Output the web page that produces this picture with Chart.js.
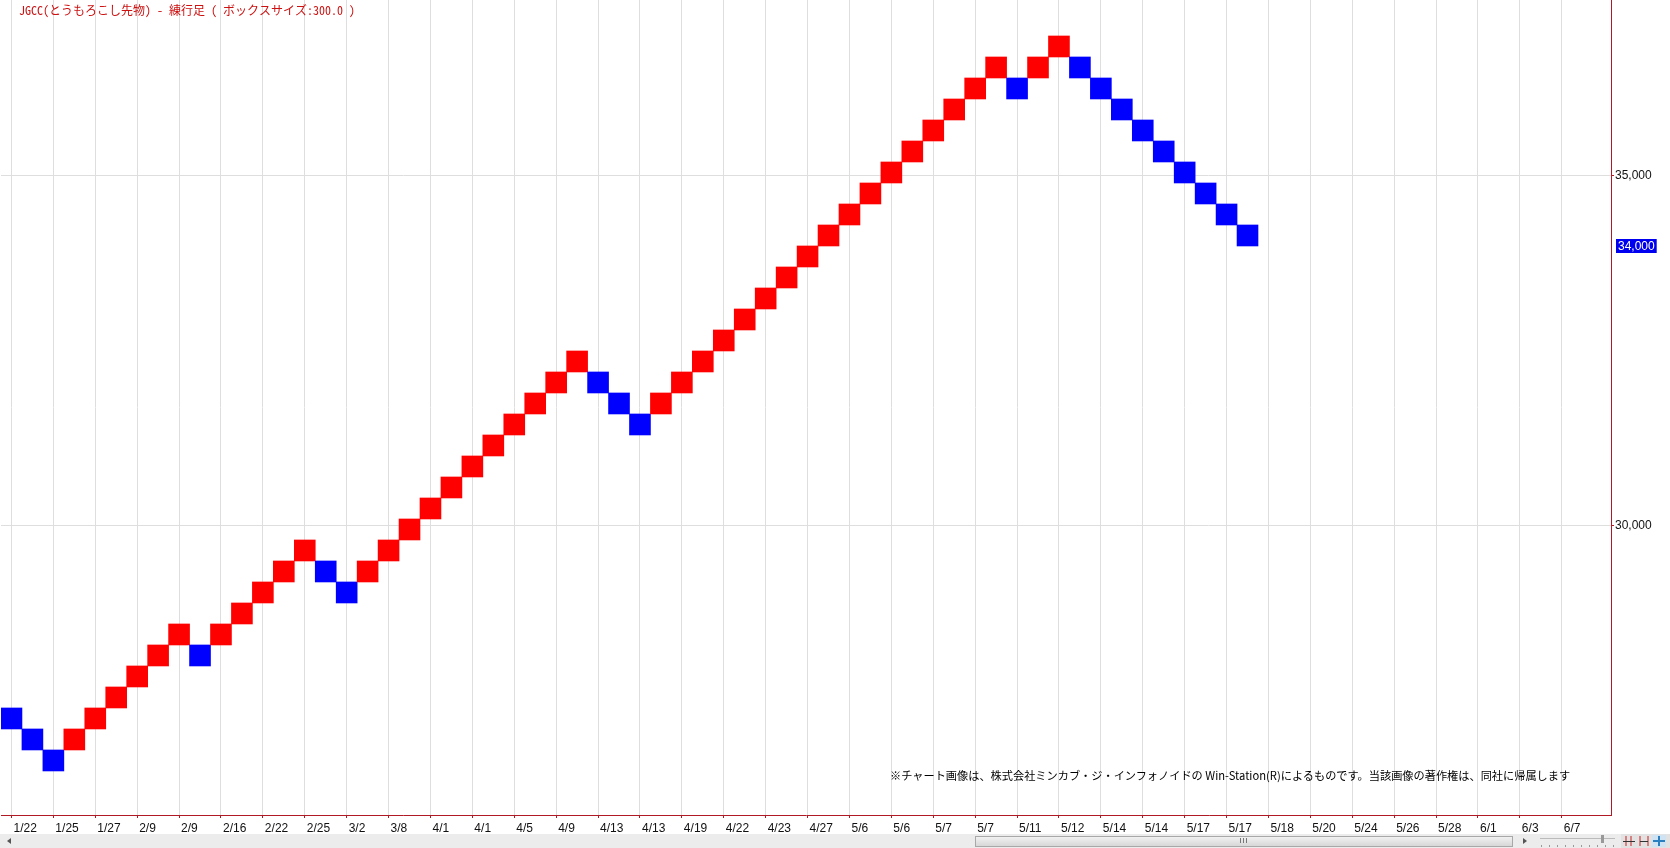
<!DOCTYPE html>
<html>
<head>
<meta charset="utf-8">
<script src="https://cdn.jsdelivr.net/npm/chart.js@4/dist/chart.umd.min.js"></script>
<style>
  html, body { margin: 0; padding: 0; background: #fff; }
  #wrap { position: relative; width: 1670px; height: 848px; overflow: hidden; }
  #title { position: absolute; left: 19px; top: 3px; font: 12px "Noto Sans Mono CJK JP", "Noto Sans CJK JP", monospace; color: #cc1111; white-space: nowrap; line-height: 14px; }
  #note { position: absolute; left: 890px; top: 767px; font: 11.2px "Noto Sans CJK JP", sans-serif; color: #000; white-space: nowrap; line-height: 16px; }
</style>
</head>
<body>
<div id="wrap">
  <canvas id="c" width="1670" height="848"></canvas>
  <div id="title">JGCC(とうもろこし先物) - 練行足 ( ボックスサイズ:300.0 )</div>
  <div id="note">※チャート画像は、株式会社ミンカブ・ジ・インフォノイドの Win-Station(R)によるものです。当該画像の著作権は、同社に帰属します</div>
</div>
<script>
// ---- data ----
const tickLabels = ['1/22','1/25','1/27','2/9','2/9','2/16','2/22','2/25','3/2','3/8','4/1','4/1','4/5','4/9','4/13','4/13','4/19','4/22','4/23','4/27','5/6','5/6','5/7','5/7','5/11','5/12','5/14','5/14','5/17','5/17','5/18','5/20','5/24','5/26','5/28','6/1','6/3','6/7'];
const boxSize = 300;
const boxLow = [27100,26800,26500,26800,27100,27400,27700,28000,28300,28000,
                28300,28600,28900,29200,29500,29200,28900,29200,29500,29800,
                30100,30400,30700,31000,31300,31600,31900,32200,31900,31600,
                31300,31600,31900,32200,32500,32800,33100,33400,33700,34000,
                34300,34600,34900,35200,35500,35800,36100,36400,36100,36400,
                36700,36400,36100,35800,35500,35200,34900,34600,34300,34000];
const boxDir = ['D','D','D','U','U','U','U','U','U','D',
                'U','U','U','U','U','D','D','U','U','U',
                'U','U','U','U','U','U','U','U','D','D',
                'D','U','U','U','U','U','U','U','U','U',
                'U','U','U','U','U','U','U','U','D','U',
                'U','D','D','D','D','D','D','D','D','D'];
const yTicks = [30000, 35000];

const UP = '#ff0000', DOWN = '#0000ff', AXIS = '#b01a24', GRID = '#dedede';
const lastIdx = boxLow.length - 1;
const lastClose = boxDir[lastIdx] === 'U' ? boxLow[lastIdx] + boxSize : boxLow[lastIdx];

const fmt = v => v.toLocaleString('en-US');

const markerPlugin = {
  id: 'marker',
  afterDraw(chart) {
    const ctx = chart.ctx;
    const ys = chart.scales.y;
    const y = ys.getPixelForValue(lastClose);
    ctx.save();
    ctx.font = '12px "Liberation Sans", Arial, sans-serif';
    const txt = fmt(lastClose);
    const w = ctx.measureText(txt).width;
    ctx.fillStyle = '#0000f0';
    ctx.fillRect(ys.left + 5, Math.round(y) - 7, w + 4, 14);
    ctx.fillStyle = '#ffffff';
    ctx.textBaseline = 'middle';
    ctx.fillText(txt, ys.left + 7, Math.round(y) + 0.5);
    ctx.restore();
  }
};

const chromePlugin = {
  id: 'chrome',
  afterDraw(chart) {
    const ctx = chart.ctx;
    ctx.save();
    ctx.fillStyle = '#ececec';
    ctx.fillRect(0, 834, 1670, 14);
    ctx.fillStyle = '#555';
    ctx.beginPath(); ctx.moveTo(7, 841); ctx.lineTo(11, 838); ctx.lineTo(11, 844); ctx.closePath(); ctx.fill();
    const g = ctx.createLinearGradient(0, 836, 0, 847);
    g.addColorStop(0, '#f4f4f4'); g.addColorStop(1, '#d4d4d4');
    ctx.fillStyle = g;
    ctx.fillRect(975, 836, 538, 11);
    ctx.strokeStyle = '#a8a8a8';
    ctx.strokeRect(975.5, 836.5, 537, 10);
    ctx.fillStyle = '#777';
    for (let i = 0; i < 3; i++) ctx.fillRect(1240 + i * 3, 838, 1, 5);
    ctx.fillStyle = '#555';
    ctx.beginPath(); ctx.moveTo(1527, 841); ctx.lineTo(1523, 838); ctx.lineTo(1523, 844); ctx.closePath(); ctx.fill();
    ctx.strokeStyle = '#bbb';
    ctx.beginPath(); ctx.moveTo(1540, 838.5); ctx.lineTo(1615, 838.5); ctx.stroke();
    ctx.fillStyle = '#999';
    ctx.fillRect(1601, 835, 3, 8);
    for (let i = 0; i < 10; i++) ctx.fillRect(1541 + i * 8, 845, 1, 2);
    ctx.fillStyle = '#e2e2e2';
    ctx.fillRect(1621, 834, 49, 14);
    ctx.strokeStyle = '#cc2222';
    ctx.beginPath();
    ctx.moveTo(1626, 836); ctx.lineTo(1626, 846); ctx.moveTo(1631, 836); ctx.lineTo(1631, 846);
    ctx.moveTo(1640, 836); ctx.lineTo(1640, 846); ctx.moveTo(1648, 836); ctx.lineTo(1648, 846);
    ctx.stroke();
    ctx.strokeStyle = '#333';
    ctx.beginPath();
    ctx.moveTo(1623, 841.5); ctx.lineTo(1635, 841.5); ctx.moveTo(1640, 841.5); ctx.lineTo(1648, 841.5);
    ctx.stroke();
    ctx.fillStyle = '#cfe3f2';
    ctx.fillRect(1652, 835, 14, 12);
    ctx.fillStyle = '#2a7fc0';
    ctx.fillRect(1658, 836, 2, 10); ctx.fillRect(1653, 840, 12, 2);
    ctx.restore();
  }
};

new Chart(document.getElementById('c'), {
  type: 'bar',
  data: {
    datasets: [{
      data: boxLow.map((lo, i) => ({ x: i, y: [lo, lo + boxSize] })),
      backgroundColor: boxDir.map(d => d === 'U' ? UP : DOWN),
      borderWidth: 0,
      barPercentage: 1,
      categoryPercentage: 1
    }]
  },
  options: {
    responsive: false,
    animation: false,
    layout: { padding: { left: 1, top: 0, right: 0, bottom: 0 } },
    plugins: { legend: { display: false }, tooltip: { enabled: false }, title: { display: false } },
    scales: {
      x: {
        type: 'linear',
        position: 'bottom',
        offset: false,
        min: -0.5,
        max: 76.35,
        afterBuildTicks: s => { s.ticks = tickLabels.map((_, i) => ({ value: i * 2 })); },
        afterFit: s => { s.height = 33; s.paddingLeft = 0; s.paddingRight = 0; },
        ticks: {
          callback: (v, i) => tickLabels[i],
          autoSkip: false,
          maxRotation: 0,
          align: 'start',
          labelOffset: 2,
          padding: 3,
          color: '#111',
          font: { family: '"Liberation Sans", Arial, sans-serif', size: 12 }
        },
        grid: { color: GRID, tickColor: AXIS, tickLength: 3, lineWidth: 1, offset: false },
        border: { color: AXIS, width: 1 }
      },
      y: {
        type: 'linear',
        position: 'right',
        min: 25871,
        max: 37514,
        afterBuildTicks: s => { s.ticks = yTicks.map(v => ({ value: v })); },
        afterFit: s => { s.width = 59; s.paddingTop = 0; s.paddingBottom = 0; },
        ticks: {
          callback: v => fmt(v),
          padding: 1,
          color: '#111',
          font: { family: '"Liberation Sans", Arial, sans-serif', size: 12 }
        },
        grid: { color: GRID, tickColor: AXIS, tickLength: 3 },
        border: { color: AXIS, width: 1 }
      }
    }
  },
  plugins: [markerPlugin, chromePlugin]
});
</script>
</body>
</html>
